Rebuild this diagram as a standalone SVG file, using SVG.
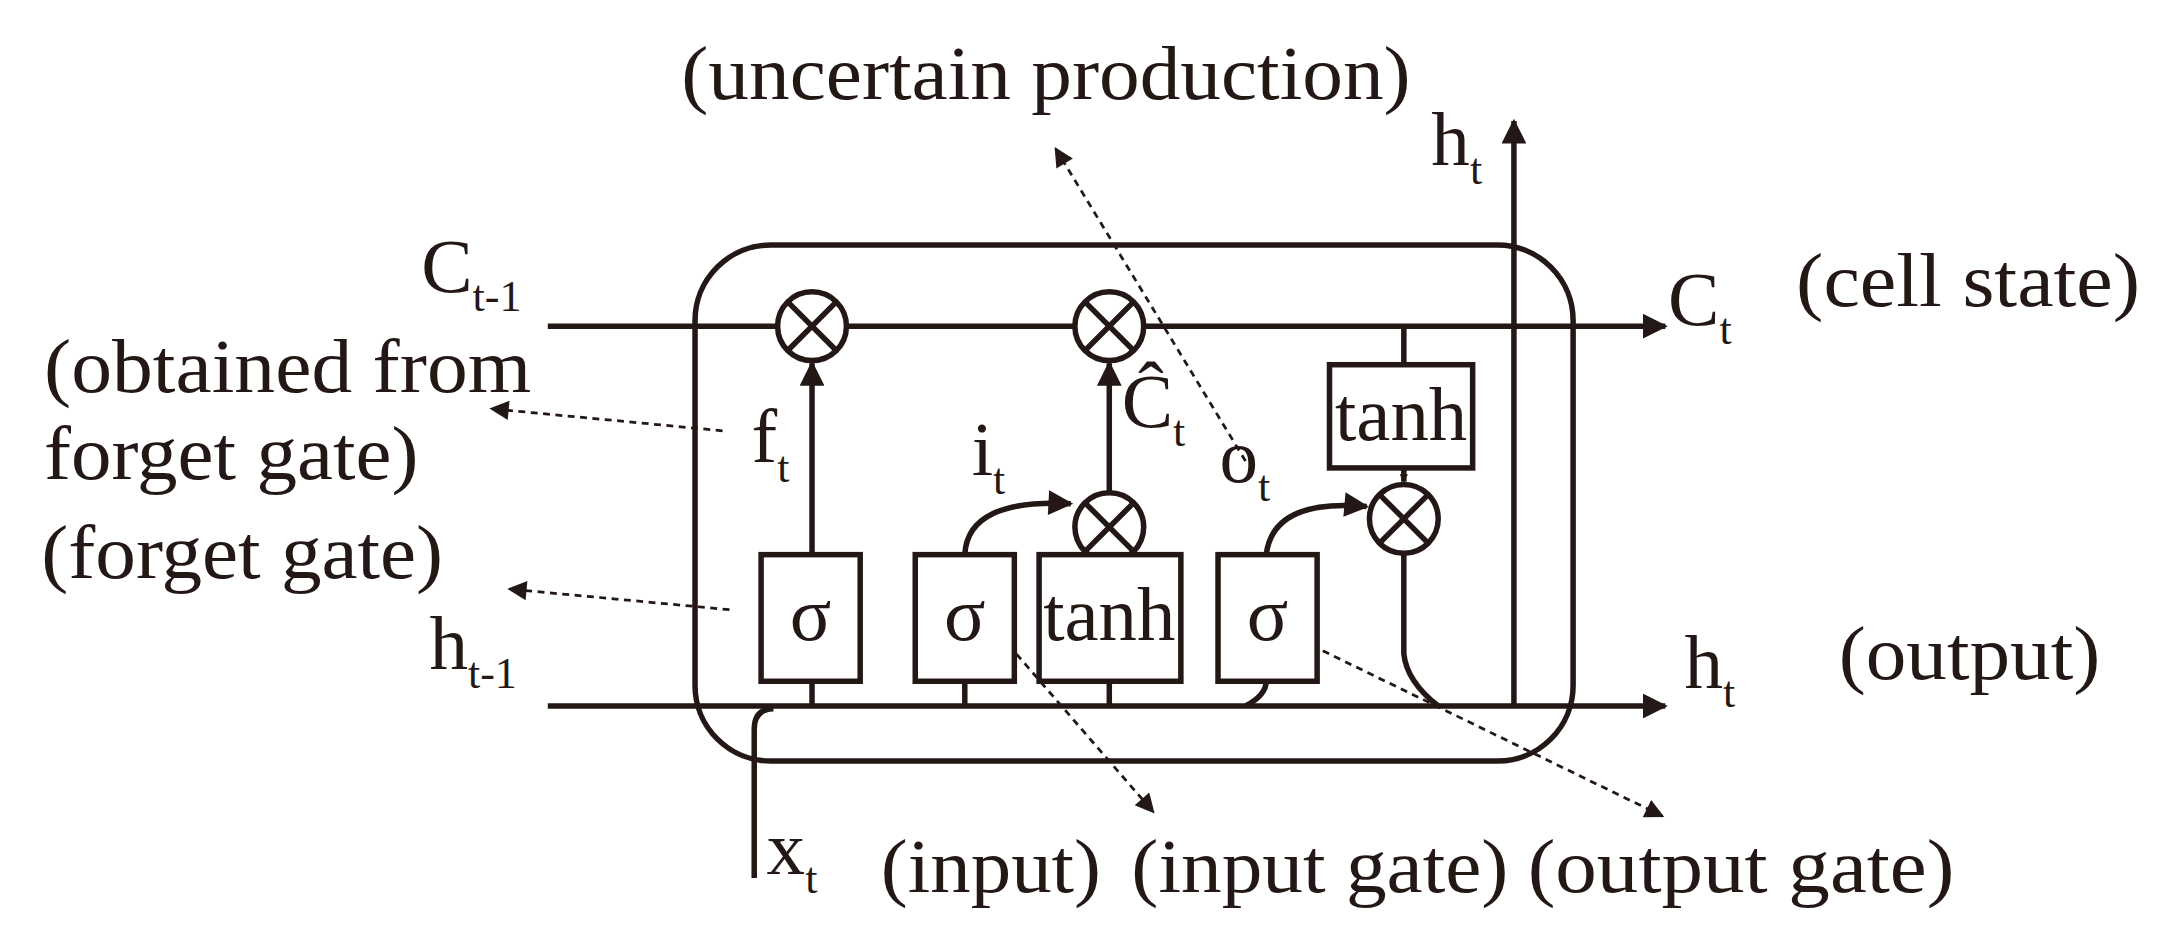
<svg xmlns="http://www.w3.org/2000/svg" width="2158" height="941" viewBox="0 0 2158 941">
<defs>
<marker id="ar" viewBox="0 0 10 10" refX="9" refY="5" markerWidth="6" markerHeight="6" markerUnits="userSpaceOnUse" orient="auto"><path d="M0,0L10,5L0,10z" fill="#231815"/></marker>
<marker id="big" viewBox="0 0 10 10" refX="9" refY="5" markerWidth="22" markerHeight="18" markerUnits="userSpaceOnUse" orient="auto"><path d="M0,0L10,5L0,10z" fill="#231815"/></marker>
<marker id="da" viewBox="0 0 10 10" refX="9" refY="5" markerWidth="20" markerHeight="14" markerUnits="userSpaceOnUse" orient="auto"><path d="M0,0L10,5L0,10z" fill="#231815"/></marker>
</defs>
<style>
.l{stroke:#231815;stroke-width:4;fill:none}
.d{stroke:#231815;stroke-width:2;stroke-dasharray:5,4;fill:none}
.b{stroke:#231815;stroke-width:4;fill:#fff}
text{font-family:"Liberation Serif","Times New Roman",serif;fill:#231815;font-size:56px}
.s{font-size:32px}
</style>
<rect width="2158" height="941" fill="#fff"/>
<g transform="scale(1.3763)">
<g id="connectors">
<rect x="505" y="178" width="638" height="375" rx="55" class="l"/>
<line x1="398" y1="237" x2="1210" y2="237" class="l" marker-end="url(#big)"/>
<line x1="398" y1="513" x2="1210" y2="513" class="l" marker-end="url(#big)"/>
<line x1="1100" y1="513" x2="1100" y2="88" class="l" marker-end="url(#big)"/>
<path d="M548,638 V530 Q548,515 562,515" class="l"/>
<line x1="590" y1="513" x2="590" y2="264" class="l" marker-end="url(#big)"/>
<line x1="701" y1="513" x2="701" y2="495" class="l"/>
<line x1="806" y1="513" x2="806" y2="495" class="l"/>
<line x1="806" y1="403" x2="806" y2="264" class="l" marker-end="url(#big)"/>
<path d="M701,403 Q703,362 778,366" class="l" marker-end="url(#big)"/>
<path d="M905,513 Q920,505 920,495" class="l"/>
<path d="M920,403 Q925,362 993,368" class="l" marker-end="url(#big)"/>
<line x1="1020" y1="237" x2="1020" y2="265" class="l"/>
<line x1="1020" y1="340" x2="1020" y2="350" class="l" marker-end="url(#ar)"/>
<path d="M1020,402 V475 Q1022,495 1045,513" class="l"/>
<line x1="525" y1="313" x2="357" y2="297" class="d" marker-end="url(#da)"/>
<line x1="530" y1="443" x2="370" y2="428" class="d" marker-end="url(#da)"/>
<line x1="905" y1="335" x2="767" y2="108" class="d" marker-end="url(#da)"/>
<line x1="715" y1="448" x2="838" y2="590" class="d" marker-end="url(#da)"/>
<line x1="945" y1="465" x2="1208" y2="593" class="d" marker-end="url(#da)"/>
</g>
<g id="mul1"><circle cx="590" cy="237" r="25" class="b"/><path d="M572,219L608,255M608,219L572,255" class="l"/></g>
<g id="mul2"><circle cx="806" cy="237" r="25" class="b"/><path d="M788,219L824,255M824,219L788,255" class="l"/></g>
<g id="mul3"><circle cx="806" cy="383" r="25" class="b"/><path d="M788,365L824,401M824,365L788,401" class="l"/></g>
<g id="mul4"><circle cx="1020" cy="377" r="25" class="b"/><path d="M1002,359L1038,395M1038,359L1002,395" class="l"/></g>
<g id="sig1"><rect x="553" y="403" width="72" height="92" class="b"/><text x="589" y="465" text-anchor="middle">σ</text></g>
<g id="sig2"><rect x="665" y="403" width="72" height="92" class="b"/><text x="701" y="465" text-anchor="middle">σ</text></g>
<g id="tanh1"><rect x="755" y="403" width="103" height="92" class="b"/><text x="806" y="465" text-anchor="middle" textLength="96" lengthAdjust="spacingAndGlyphs">tanh</text></g>
<g id="sig3"><rect x="885" y="403" width="72" height="92" class="b"/><text x="921" y="465" text-anchor="middle">σ</text></g>
<g id="tanh2"><rect x="966" y="265" width="104" height="75" class="b"/><text x="1018" y="320" text-anchor="middle" textLength="96" lengthAdjust="spacingAndGlyphs">tanh</text></g>
<g id="labels">
<text x="495" y="72" textLength="530" lengthAdjust="spacingAndGlyphs">(uncertain production)</text>
<text x="1040" y="120">h<tspan class="s" dy="14">t</tspan></text>
<text x="306" y="212">C<tspan class="s" dy="14">t-1</tspan></text>
<text x="1212" y="236">C<tspan class="s" dy="14">t</tspan></text>
<text x="1305" y="222" textLength="250" lengthAdjust="spacingAndGlyphs">(cell state)</text>
<text x="32" y="285" textLength="354" lengthAdjust="spacingAndGlyphs">(obtained from</text>
<text x="32" y="348" textLength="272" lengthAdjust="spacingAndGlyphs">forget gate)</text>
<text x="30" y="420" textLength="292" lengthAdjust="spacingAndGlyphs">(forget gate)</text>
<text x="546" y="336">f<tspan class="s" dy="14">t</tspan></text>
<text x="706" y="345">i<tspan class="s" dy="14">t</tspan></text>
<text x="815" y="310">Ĉ<tspan class="s" dy="14">t</tspan></text>
<text x="886" y="350">o<tspan class="s" dy="14">t</tspan></text>
<text x="312" y="486">h<tspan class="s" dy="14">t-1</tspan></text>
<text x="1224" y="500">h<tspan class="s" dy="14">t</tspan></text>
<text x="1336" y="493" textLength="190" lengthAdjust="spacingAndGlyphs">(output)</text>
<text x="557" y="635">x<tspan class="s" dy="14">t</tspan></text>
<text x="640" y="648" textLength="160" lengthAdjust="spacingAndGlyphs">(input)</text>
<text x="822" y="648" textLength="274" lengthAdjust="spacingAndGlyphs">(input gate)</text>
<text x="1110" y="648" textLength="310" lengthAdjust="spacingAndGlyphs">(output gate)</text>
</g>
</g>
</svg>
